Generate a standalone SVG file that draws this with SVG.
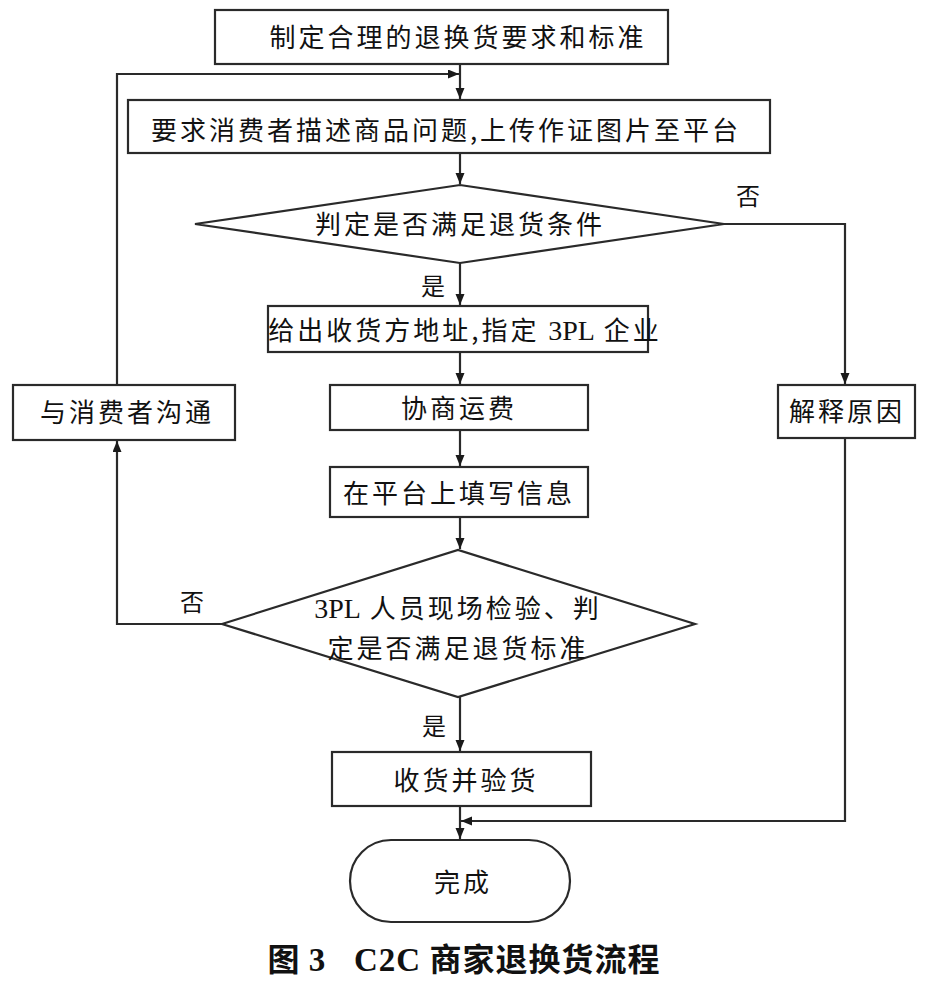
<svg xmlns="http://www.w3.org/2000/svg" width="936" height="991" viewBox="0 0 936 991">
<style>
  .box{fill:#fff;stroke:#2a2a2a;stroke-width:2.2}
  .t{font-family:"Noto Sans CJK SC","Liberation Sans",sans-serif;font-size:26px;fill:#111;text-anchor:middle;letter-spacing:3px}
  .lb{font-family:"Noto Sans CJK SC","Liberation Sans",sans-serif;font-size:24px;fill:#111;text-anchor:middle}
  .ser{font-family:"Liberation Serif","Noto Serif",serif;font-size:28px;letter-spacing:0px}
  .conn path{fill:none;stroke:#2a2a2a;stroke-width:2.2}
</style>
<defs>
  <marker id="ah" markerUnits="userSpaceOnUse" markerWidth="12" markerHeight="10" refX="11" refY="4.5" orient="auto">
    <path d="M0,0 L11,4.5 L0,9 z" fill="#1a1a1a"/>
  </marker>
</defs>
<rect width="936" height="991" fill="#fff"/>

<g class="conn">
  <path d="M460,64 V99" marker-end="url(#ah)"/>
  <path d="M117,385 V74 H459" marker-end="url(#ah)"/>
  <path d="M460,153 V184" marker-end="url(#ah)"/>
  <path d="M460,263 V305" marker-end="url(#ah)"/>
  <path d="M724,224 H845 V384" marker-end="url(#ah)"/>
  <path d="M460,352 V384" marker-end="url(#ah)"/>
  <path d="M460,430 V466" marker-end="url(#ah)"/>
  <path d="M460,517 V549" marker-end="url(#ah)"/>
  <path d="M222,624 H117 V441" marker-end="url(#ah)"/>
  <path d="M460,697 V751" marker-end="url(#ah)"/>
  <path d="M845,438 V821 H461" marker-end="url(#ah)"/>
  <path d="M460,806 V839" marker-end="url(#ah)"/>
</g>

<g id="n1"><rect class="box" x="215" y="10" width="453" height="54"/><text class="t" x="458" y="47">制定合理的退换货要求和标准</text></g>
<g id="n2"><rect class="box" x="128" y="100" width="642" height="53"/><text class="t" x="446" y="140">要求消费者描述商品问题,上传作证图片至平台</text></g>
<g id="d1"><polygon class="box" points="195,224 460,185 724,224 460,263"/><text class="t" x="460" y="234">判定是否满足退货条件</text></g>
<g id="n3"><rect class="box" x="268" y="306" width="380" height="46"/><text class="t" x="465" y="340">给出收货方地址,指定 <tspan class="ser">3PL</tspan> 企业</text></g>
<g id="n4"><rect class="box" x="330" y="385" width="258" height="45"/><text class="t" x="459" y="418">协商运费</text></g>
<g id="n5"><rect class="box" x="330" y="467" width="258" height="50"/><text class="t" x="459" y="503">在平台上填写信息</text></g>
<g id="d2"><polygon class="box" points="222,624 458,550 695,624 458,697"/><text class="t" x="458" y="618"><tspan class="ser">3PL</tspan> 人员现场检验、判</text><text class="t" x="458" y="658">定是否满足退货标准</text></g>
<g id="n6"><rect class="box" x="332" y="752" width="259" height="54"/><text class="t" x="466" y="790">收货并验货</text></g>
<g id="n7"><rect class="box" x="13" y="385" width="222" height="55"/><text class="t" x="127" y="422">与消费者沟通</text></g>
<g id="n8"><rect class="box" x="778" y="385" width="137" height="53"/><text class="t" x="847" y="421">解释原因</text></g>
<g id="end"><rect class="box" x="350" y="840" width="220" height="82" rx="41" ry="41"/><text class="t" x="463" y="892">完成</text></g>

<g id="labels">
  <text class="lb" x="748" y="205">否</text>
  <text class="lb" x="433" y="295">是</text>
  <text class="lb" x="192" y="611">否</text>
  <text class="lb" x="434" y="735">是</text>
</g>

<text x="464" y="971" style="font-family:'Noto Sans CJK SC','Liberation Sans',sans-serif;font-size:32px;font-weight:bold;fill:#111;text-anchor:middle;white-space:pre;letter-spacing:1px">图 <tspan style="font-family:'Liberation Serif',serif;font-size:33px">3   C2C</tspan> 商家退换货流程</text>
</svg>
